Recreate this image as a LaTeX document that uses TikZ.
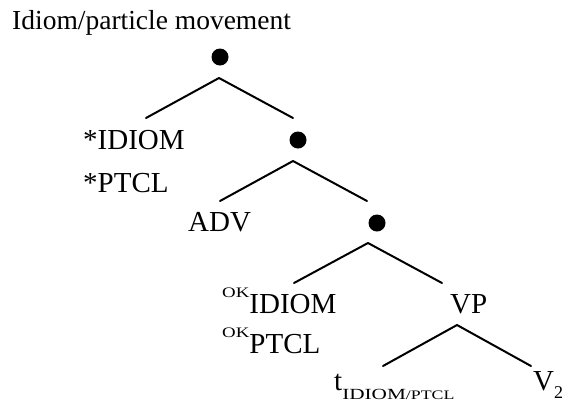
\documentclass[tikz,border=0pt]{standalone}
\usepackage{fontspec}
\setmainfont{Liberation Serif}
\usepackage{graphicx}
\begin{document}
\begin{tikzpicture}[x=1pt,y=-1pt,
  lbl/.style={inner sep=0pt,anchor=base west,font=\fontsize{29}{31}\selectfont},
  branch/.style={line width=2pt,line cap=round},
  dot/.style={circle,fill=black,inner sep=0pt,minimum size=17pt}]
\useasboundingbox (0,0) rectangle (567,405);
\newcommand{\okmark}{\raisebox{16pt}{\fontsize{14.5}{15}\selectfont\scalebox{1.3}[1]{OK}}}
\newcommand{\tsub}{\raisebox{-9pt}{\scalebox{1.37}[1]{\fontsize{15.5}{16}\selectfont IDIOM\fontsize{13}{13}\selectfont/PTCL}}}

% title
\node[lbl,font=\fontsize{27.5}{30}\selectfont] (title) at (12,29) {Idiom/particle movement};

% top level
\node[dot] (d1) at (220,57) {};
\coordinate (d1a) at (219,78);
\coordinate (d1l) at (146,118);
\coordinate (d1r) at (293,118);
\draw[branch] (d1l) -- (d1a) -- (d1r);
\node[lbl] (idiomstar) at (83,149) {*IDIOM};
\node[lbl] (ptclstar) at (83,192) {*PTCL};

% second level
\node[dot] (d2) at (298,140) {};
\coordinate (d2a) at (293,161);
\coordinate (d2l) at (220,201);
\coordinate (d2r) at (367,201);
\draw[branch] (d2l) -- (d2a) -- (d2r);
\node[lbl] (adv) at (188,231) {ADV};

% third level
\node[dot] (d3) at (377,223) {};
\coordinate (d3a) at (368,243);
\coordinate (d3l) at (294,283);
\coordinate (d3r) at (442,283);
\draw[branch] (d3l) -- (d3a) -- (d3r);
\node[lbl] (idiomok) at (222,313) {\okmark IDIOM};
\node[lbl] (ptclok) at (222,353) {\okmark PTCL};
\node[lbl] (vp) at (450,313) {VP};

% VP
\coordinate (vpa) at (457,325);
\coordinate (vpl) at (383,366);
\coordinate (vpr) at (531,366);
\draw[branch] (vpl) -- (vpa) -- (vpr);
\node[lbl] (trace) at (334,390) {t\tsub};
\node[lbl] (v2) at (533,390) {V\raisebox{-8pt}{\fontsize{18}{18}\selectfont 2}};
\end{tikzpicture}
\end{document}
